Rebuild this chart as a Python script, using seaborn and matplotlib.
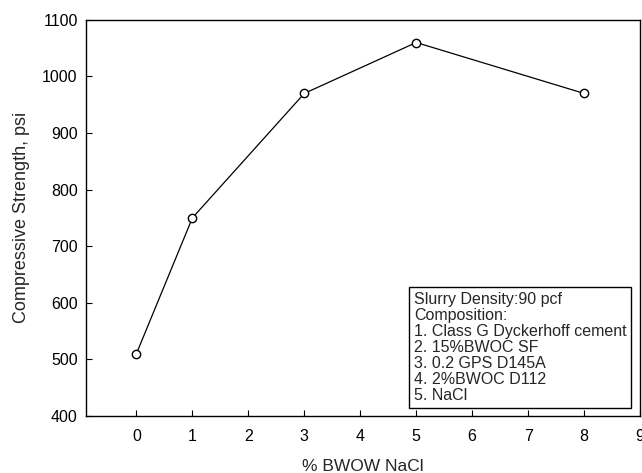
import matplotlib
matplotlib.use("Agg")
import matplotlib.pyplot as plt
import seaborn as sns
import pandas as pd

nacl = [0, 1, 3, 5, 8]
strength = [510, 750, 970, 1060, 970]
note_lines = ["Slurry Density:90 pcf", "Composition:", "1. Class G Dyckerhoff cement",
              "2. 15%BWOC SF", "3. 0.2 GPS D145A", "4. 2%BWOC D112", "5. NaCl"]

sns.set_style("ticks")
plt.rcParams['font.family'] = ['Liberation Sans', 'DejaVu Sans']

df = pd.DataFrame({"x": nacl, "y": strength})
fig = plt.figure(figsize=(6.42, 4.73), dpi=100)
ax = fig.add_axes([0.134, 0.1205, 0.863, 0.8375])
sns.lineplot(data=df, x="x", y="y", ax=ax, color="black", linewidth=0.9,
             marker="o", markersize=6, markerfacecolor="white",
             markeredgecolor="black", markeredgewidth=1.0)
ax.set_xlim(-0.9, 9)
ax.set_ylim(400, 1100)
ax.set_xticks(range(0, 10))
ax.set_yticks(range(400, 1101, 100))
ax.tick_params(direction="in", length=4, labelsize=11.5, colors="black")
ax.tick_params(axis="x", pad=9)
ax.tick_params(axis="y", pad=6)
for s in ax.spines.values():
    s.set_visible(True)
    s.set_color("black")
    s.set_linewidth(1.0)
ax.set_xlabel("% BWOW NaCl", fontsize=12.5, labelpad=11)
ax.set_ylabel("Compressive Strength, psi", fontsize=13, labelpad=9)
ax.text(0.592, 0.033, "\n".join(note_lines), transform=ax.transAxes, fontsize=11.5,
        va="bottom", ha="left", linespacing=1.08,
        bbox=dict(boxstyle="square,pad=0.3", facecolor="white", edgecolor="black", linewidth=1.0))
fig.savefig("out.png", dpi=100)
